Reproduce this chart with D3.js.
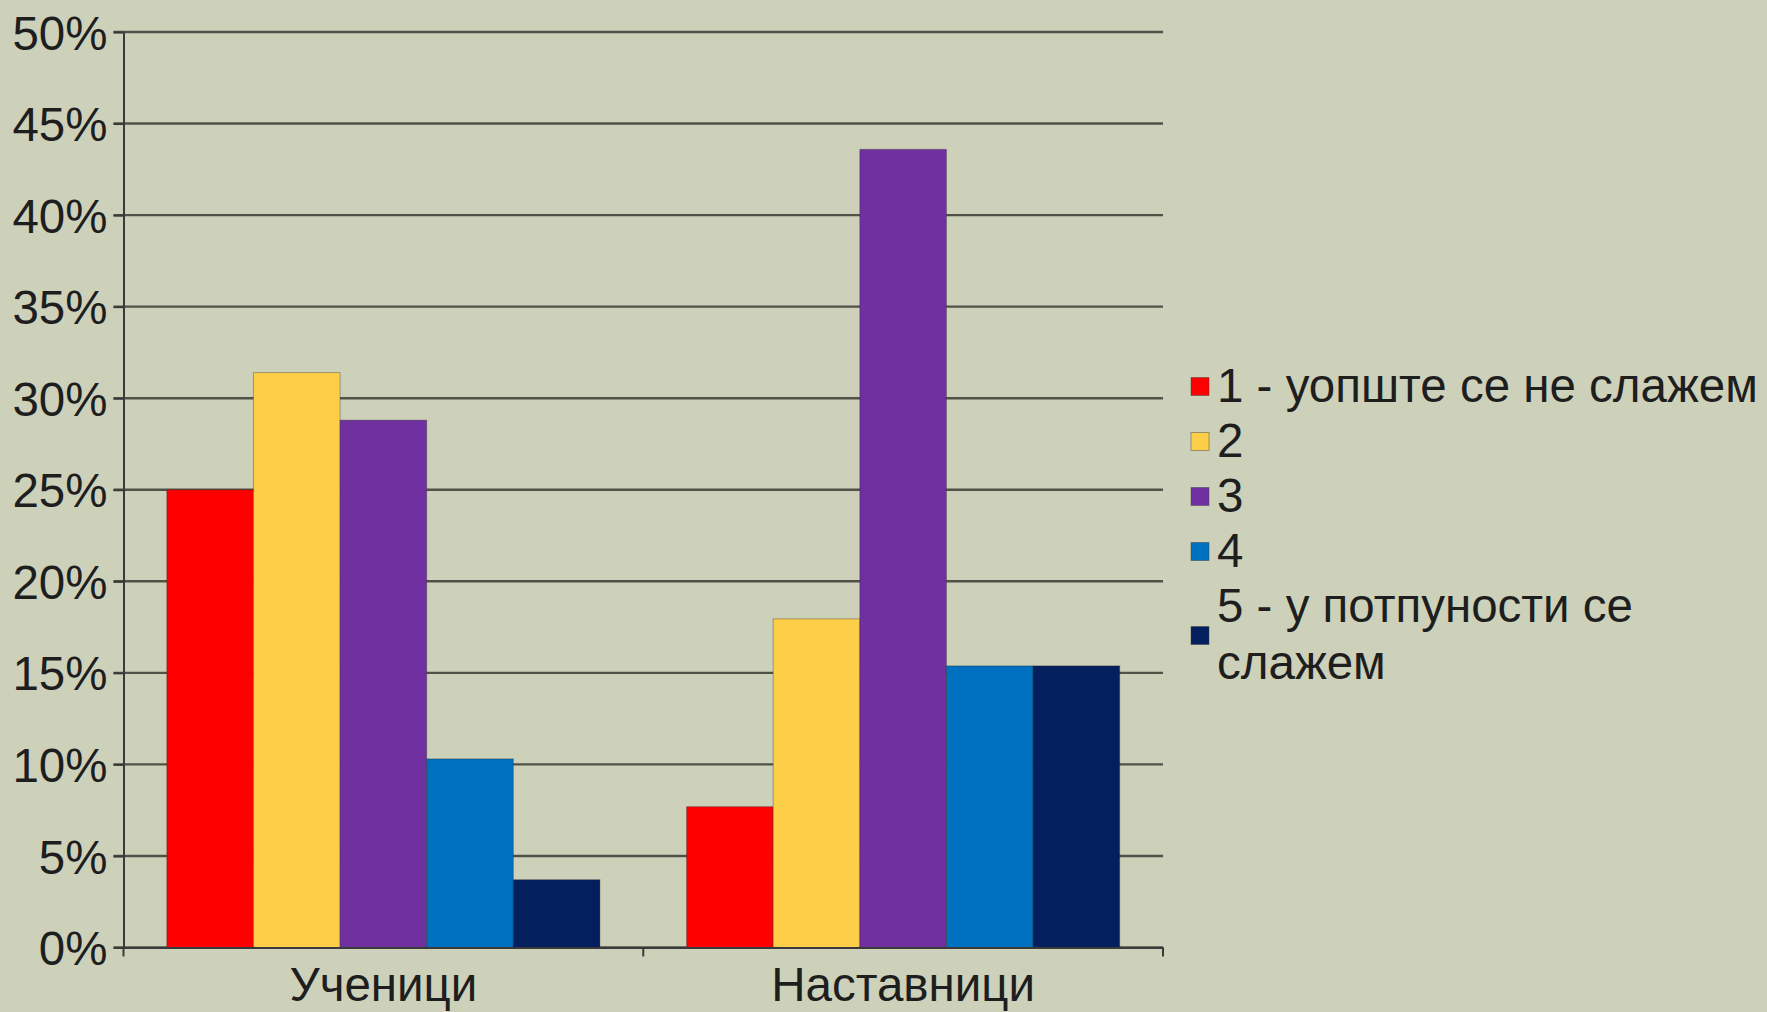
<!DOCTYPE html>
<html>
<head>
<meta charset="utf-8">
<script src="https://cdn.jsdelivr.net/npm/d3@7"></script>
<style>
  html, body { margin: 0; padding: 0; background: #CDD1BA; }
  svg { display: block; }
  text { font-family: "Liberation Sans", Arial, sans-serif; fill: #1e1e1e; }
</style>
</head>
<body>
<svg id="chart" width="1767" height="1012"></svg>
<script>
// ---- data ----
const categories = ["Ученици", "Наставници"];
const seriesNames = ["1 - уопште се не слажем", "2", "3", "4", "5 - у потпуности се слажем"];
const seriesColors = ["#FF0000", "#FDCE48", "#7030A0", "#0070C0", "#031F5E"];
const uceniciValues = [0.250, 0.314, 0.288, 0.103, 0.037];
const nastavniciValues = [0.0769, 0.1795, 0.4359, 0.1538, 0.1538];
const yTicks = [0, 0.05, 0.10, 0.15, 0.20, 0.25, 0.30, 0.35, 0.40, 0.45, 0.50];

const valuesByCategory = [uceniciValues, nastavniciValues];

// ---- layout ----
const svg = d3.select("#chart");
const plot = { left: 123.5, right: 1163, top: 32, bottom: 947.5 };
const FS = 47.5;

const x = d3.scaleBand().domain(categories).range([plot.left, plot.right]).padding(0);
const xs = d3.scaleBand().domain(d3.range(seriesNames.length))
  .range([0, x.bandwidth()]).paddingInner(0).paddingOuter(0.5);
const y = d3.scaleLinear().domain([0, 0.5]).range([plot.bottom, plot.top]);

// gridlines
svg.append("g")
  .selectAll("line").data(yTicks).join("line")
  .attr("x1", plot.left - 10).attr("x2", plot.right)
  .attr("y1", d => y(d)).attr("y2", d => y(d))
  .attr("stroke", "#505248").attr("stroke-width", 2.4);

// bars
const groups = svg.append("g").selectAll("g").data(categories).join("g")
  .attr("transform", d => `translate(${x(d)},0)`);
groups.selectAll("rect")
  .data((d, i) => valuesByCategory[i].map((v, j) => ({ v, j })))
  .join("rect")
  .attr("x", d => xs(d.j))
  .attr("width", xs.bandwidth())
  .attr("y", d => y(d.v))
  .attr("height", d => y(0) - y(d.v))
  .attr("fill", d => seriesColors[d.j])
  .attr("stroke", "rgba(40,40,40,0.35)")
  .attr("stroke-width", 1);

// y axis
const yAxis = d3.axisLeft(y).tickValues(yTicks).tickFormat(d3.format(".0%"))
  .tickSizeInner(10).tickSizeOuter(0).tickPadding(6);
const yg = svg.append("g").attr("transform", `translate(${plot.left},0)`).call(yAxis);
yg.select(".domain").attr("stroke", "#3a3a3a").attr("stroke-width", 2);
yg.selectAll(".tick line").attr("stroke", "#3a3a3a").attr("stroke-width", 2);
yg.selectAll(".tick text").attr("font-size", FS).attr("fill", "#1e1e1e")
  .attr("font-family", "'Liberation Sans', Arial, sans-serif").attr("dy", "0.36em");

// x axis
const xAxis = d3.axisBottom(x).tickValues([]).tickSizeOuter(0);
const xg = svg.append("g").attr("transform", `translate(0,${plot.bottom})`).call(xAxis);
xg.select(".domain").attr("stroke", "#3a3a3a").attr("stroke-width", 2);
// category separator ticks
const sepPositions = [plot.left, x(categories[1]), plot.right];
xg.selectAll(".sep").data(sepPositions).join("line").attr("class", "sep")
  .attr("x1", d => d).attr("x2", d => d).attr("y1", 0).attr("y2", 9)
  .attr("stroke", "#3a3a3a").attr("stroke-width", 2);
xg.selectAll(".cat").data(categories).join("text").attr("class", "cat")
  .attr("x", d => x(d) + x.bandwidth() / 2)
  .attr("y", 1001 - plot.bottom)
  .attr("text-anchor", "middle")
  .attr("font-size", FS)
  .attr("font-family", "'Liberation Sans', Arial, sans-serif")
  .attr("fill", "#1e1e1e")
  .text(d => d);

// legend
const legend = svg.append("g").attr("transform", "translate(1191,0)");
const legendBaselines = [401.5, 456.5, 511.5, 566.5];
const legendItems = seriesNames.map((name, i) => ({ name, i }));
legendItems.forEach(item => {
  const g = legend.append("g");
  let lines, base;
  if (item.i < 4) {
    lines = [item.name];
    base = legendBaselines[item.i];
  } else {
    lines = ["5 - у потпуности се", "слажем"];
    base = 622;
  }
  const lineH = 57;
  const markerCy = item.i < 4 ? base - 15 : base + lineH / 2 - 15;
  g.append("rect")
    .attr("x", 0).attr("y", markerCy - 9)
    .attr("width", 18).attr("height", 18)
    .attr("fill", seriesColors[item.i])
    .attr("stroke", "rgba(60,60,60,0.45)").attr("stroke-width", 1);
  lines.forEach((t, k) => {
    g.append("text").attr("x", 26).attr("y", base + k * lineH)
      .attr("font-size", FS).text(t);
  });
});
</script>
</body>
</html>
